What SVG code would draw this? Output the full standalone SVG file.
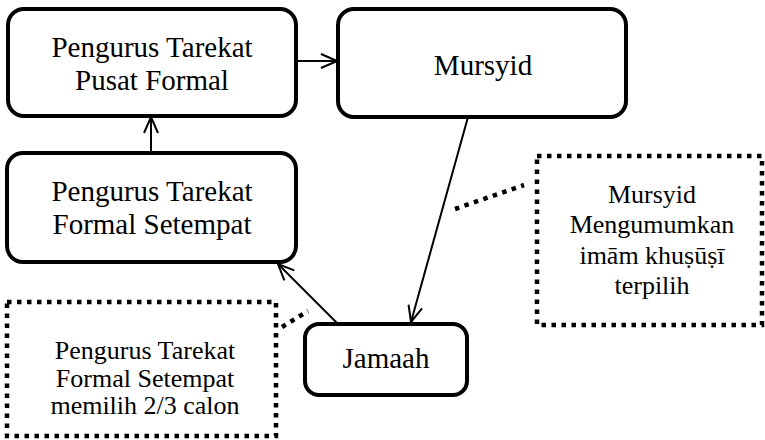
<svg xmlns="http://www.w3.org/2000/svg" width="765" height="440" viewBox="0 0 765 440">
<style>
.box{fill:#fff;stroke:#000;stroke-width:4}
.dot{fill:none;stroke:#000;stroke-width:4.5;stroke-dasharray:4.5 5.5}
.t{font-family:"Liberation Serif","Times New Roman",serif;font-size:29px;fill:#000;text-anchor:middle}
.s{font-family:"Liberation Serif","Times New Roman",serif;font-size:26px;fill:#000;text-anchor:middle}
.c{fill:none;stroke:#000;stroke-width:2}
</style>
<defs>
<marker id="arr" viewBox="0 0 18 16" refX="17" refY="8" markerWidth="18" markerHeight="16" markerUnits="userSpaceOnUse" orient="auto">
<path d="M1,1 L17,8 L1,15" fill="none" stroke="#000" stroke-width="2"/>
</marker>
</defs>
<rect width="765" height="440" fill="#fff"/>
<g id="connectors">
<line class="c" x1="296" y1="61" x2="337" y2="61" marker-end="url(#arr)"/>
<line class="c" x1="151" y1="153" x2="151" y2="117" marker-end="url(#arr)"/>
<line class="c" x1="468" y1="117" x2="411" y2="322" marker-end="url(#arr)"/>
<line class="c" x1="338" y1="324" x2="278" y2="264" marker-end="url(#arr)"/>
<line class="dot" x1="455" y1="209" x2="524" y2="185"/>
<line class="dot" x1="282" y1="327" x2="308" y2="311"/>
</g>
<g id="pusat">
<rect class="box" x="8" y="9" width="288" height="107" rx="16"/>
<text class="t" x="152" y="57">Pengurus Tarekat</text>
<text class="t" x="152" y="90">Pusat Formal</text>
</g>
<g id="mursyid">
<rect class="box" x="338" y="9" width="288" height="108" rx="16"/>
<text class="t" x="483" y="75">Mursyid</text>
</g>
<g id="setempat">
<rect class="box" x="7" y="153" width="289" height="109" rx="16"/>
<text class="t" x="152" y="201">Pengurus Tarekat</text>
<text class="t" x="152" y="234">Formal Setempat</text>
</g>
<g id="jamaah">
<rect class="box" x="305" y="324" width="162" height="71" rx="14"/>
<text class="t" x="386" y="368">Jamaah</text>
</g>
<g id="note-mursyid">
<rect class="dot" x="537" y="156" width="225" height="169"/>
<text class="s" x="652" y="203">Mursyid</text>
<text class="s" x="652" y="233">Mengumumkan</text>
<text class="s" x="652" y="264">imām khuṣūṣī</text>
<text class="s" x="652" y="294">terpilih</text>
</g>
<g id="note-pengurus">
<rect class="dot" x="7" y="302" width="269" height="134"/>
<text class="s" x="145" y="359">Pengurus Tarekat</text>
<text class="s" x="145" y="387">Formal Setempat</text>
<text class="s" x="145" y="414">memilih 2/3 calon</text>
</g>
</svg>
